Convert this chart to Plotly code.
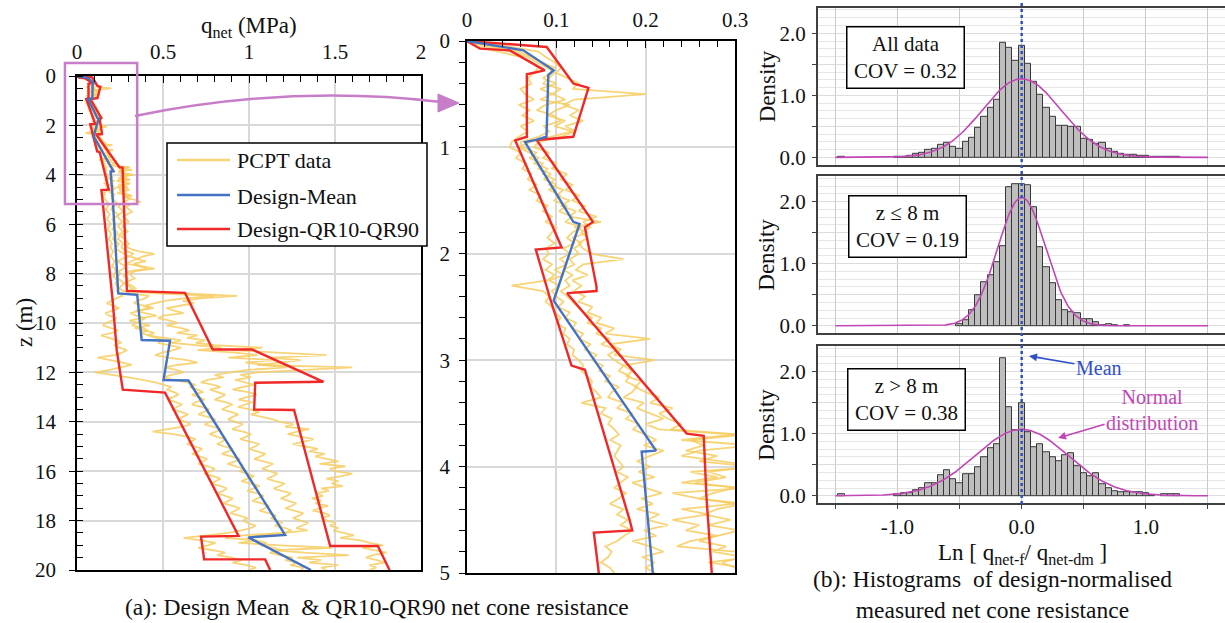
import numpy as np
import plotly.graph_objects as go

W, H = 1225, 623
SERIF = "Liberation Serif"
YELLOW = "rgba(246,204,96,0.85)"
RED = "#F02828"
BLUE = "#4472C4"
PINK = "#C87DC8"
MAGENTA = "#C246B6"
MEAN_BLUE = "#3150C8"

# ---------------------------------------------------------------- PCPT data
depth_top = np.round(np.linspace(0.0, 4.95, 100), 2)   # 0.05 m sampling to 5 m
depth_deep = np.round(np.linspace(5.0, 20.0, 151), 1)  # 0.1 m sampling below

pcpt_1_top = [
    0.000, 0.030, 0.058, 0.072, 0.083, 0.098, 0.093, 0.085, 0.100, 0.082, 0.095, 0.110, 0.088, 0.078, 0.097, 0.105, 0.086, 0.092, 0.080, 0.060,
    0.062, 0.078, 0.070, 0.085, 0.080, 0.094, 0.086, 0.100, 0.092, 0.104, 0.098, 0.112, 0.103, 0.118, 0.110, 0.128, 0.118, 0.112, 0.120, 0.108,
    0.115, 0.104, 0.112, 0.098, 0.108, 0.092, 0.104, 0.095, 0.100, 0.108, 0.102, 0.115, 0.110, 0.122, 0.118, 0.130, 0.126, 0.138, 0.132, 0.145,
    0.140, 0.152, 0.148, 0.160, 0.155, 0.170, 0.162, 0.158, 0.175, 0.168, 0.185, 0.178, 0.192, 0.186, 0.200, 0.212, 0.198, 0.220, 0.205, 0.190,
    0.205, 0.192, 0.210, 0.185, 0.200, 0.218, 0.195, 0.208, 0.190, 0.215, 0.202, 0.225, 0.198, 0.212, 0.185, 0.205, 0.220, 0.196, 0.210, 0.200,
]
pcpt_1_deep = [
    0.210, 0.228, 0.235, 0.205, 0.198, 0.222, 0.240, 0.226, 0.205, 0.212,
    0.224, 0.218, 0.205, 0.230, 0.238, 0.215, 0.208, 0.226, 0.244, 0.232,
    0.228, 0.250, 0.275, 0.300, 0.262, 0.240, 0.255, 0.285, 0.268, 0.245,
    0.252, 0.240, 0.236, 0.258, 0.272, 0.255, 0.248, 0.268, 0.310, 0.420,
    0.395, 0.350, 0.330, 0.385, 0.420, 0.365, 0.310, 0.342, 0.398, 0.372,
    0.340, 0.318, 0.385, 0.410, 0.372, 0.420, 0.465, 0.505, 0.470, 0.548,
    0.605, 0.560, 0.495, 0.455, 0.530, 0.640, 0.700, 0.585, 0.510, 0.575,
    0.620, 0.548, 0.505, 0.560, 0.640, 0.690, 0.655, 0.700, 0.735, 0.668,
    0.705, 0.742, 0.690, 0.668, 0.725, 0.770, 0.738, 0.705, 0.760, 0.805,
    0.775, 0.742, 0.790, 0.835, 0.808, 0.770, 0.810, 0.862, 0.845, 0.815,
    0.858, 0.905, 0.880, 0.842, 0.895, 0.948, 0.920, 0.875, 0.925, 0.968,
    0.945, 0.985, 1.030, 0.992, 0.955, 1.010, 1.062, 1.025, 0.990, 1.050,
    1.085, 1.048, 1.020, 1.075, 1.118, 1.092, 1.060, 1.115, 1.158, 1.128,
    1.165, 1.195, 1.150, 1.210, 1.248, 1.205, 1.060, 0.985, 1.040, 1.102,
    1.070, 1.145, 1.190, 1.120, 1.175, 1.255, 1.210, 1.285, 1.240, 1.320,
    1.300,
]

pcpt_2_top = [
    0.000, 0.045, 0.080, 0.088, 0.098, 0.105, 0.100, 0.112, 0.125, 0.118, 0.200, 0.120, 0.108, 0.125, 0.115, 0.130, 0.110, 0.122, 0.105, 0.080,
    0.075, 0.092, 0.085, 0.100, 0.095, 0.112, 0.105, 0.118, 0.110, 0.125, 0.118, 0.132, 0.125, 0.145, 0.130, 0.138, 0.128, 0.135, 0.125, 0.130,
    0.140, 0.175, 0.130, 0.122, 0.135, 0.118, 0.128, 0.120, 0.132, 0.125, 0.140, 0.135, 0.150, 0.145, 0.165, 0.155, 0.205, 0.160, 0.172, 0.165,
    0.210, 0.175, 0.185, 0.178, 0.195, 0.188, 0.200, 0.215, 0.205, 0.230, 0.215, 0.225, 0.240, 0.228, 0.310, 0.250, 0.265, 0.245, 0.280, 0.260,
    0.320, 0.270, 0.290, 0.255, 0.300, 0.275, 0.260, 0.310, 0.280, 0.265, 0.295, 0.270, 0.305, 0.280, 0.260, 0.290, 0.275, 0.310, 0.285, 0.300,
]
pcpt_2_deep = [
    0.330, 0.370, 0.310, 0.285, 0.305, 0.320, 0.292, 0.270, 0.288, 0.300,
    0.278, 0.265, 0.282, 0.295, 0.272, 0.258, 0.276, 0.290, 0.302, 0.285,
    0.310, 0.360, 0.450, 0.385, 0.350, 0.400, 0.330, 0.375, 0.450, 0.340,
    0.305, 0.318, 0.335, 0.300, 0.292, 0.322, 0.340, 0.315, 0.600, 0.930,
    0.720, 0.615, 0.680, 0.590, 0.520, 0.565, 0.620, 0.505, 0.470, 0.540,
    0.585, 0.520, 0.600, 0.655, 0.580, 0.700, 0.640, 0.745, 0.690, 0.800,
    1.080, 0.900, 1.220, 1.450, 1.120, 1.300, 1.180, 1.050, 1.600, 1.280,
    1.050, 0.950, 1.010, 0.920, 0.975, 1.030, 0.960, 0.905, 0.995, 1.045,
    0.985, 0.940, 1.020, 0.975, 0.935, 1.005, 1.060, 1.010, 1.085, 1.140,
    1.180, 1.260, 1.210, 1.350, 1.280, 1.225, 1.300, 1.375, 1.320, 1.255,
    1.330, 1.400, 1.350, 1.440, 1.385, 1.455, 1.520, 1.410, 1.560, 1.470,
    1.500, 1.600, 1.540, 1.450, 1.520, 1.480, 1.545, 1.420, 1.465, 1.390,
    1.430, 1.365, 1.420, 1.385, 1.460, 1.410, 1.370, 1.440, 1.470, 1.420,
    1.455, 1.505, 1.470, 1.520, 1.490, 1.550, 1.610, 1.530, 1.650, 1.700,
    1.780, 1.660, 1.740, 1.800, 1.720, 1.680, 1.745, 1.790, 1.700, 1.740,
    1.700,
]

pcpt_3_top = [
    0.000, 0.010, 0.035, 0.060, 0.072, 0.080, 0.075, 0.068, 0.072, 0.060, 0.065, 0.075, 0.058, 0.070, 0.062, 0.075, 0.060, 0.068, 0.058, 0.050,
    0.048, 0.060, 0.055, 0.066, 0.062, 0.072, 0.068, 0.078, 0.070, 0.082, 0.078, 0.090, 0.085, 0.095, 0.088, 0.100, 0.095, 0.090, 0.098, 0.088,
    0.092, 0.085, 0.095, 0.088, 0.098, 0.090, 0.050, 0.085, 0.092, 0.088, 0.095, 0.098, 0.105, 0.100, 0.110, 0.108, 0.115, 0.112, 0.120, 0.118,
    0.125, 0.130, 0.128, 0.135, 0.140, 0.138, 0.145, 0.150, 0.128, 0.155, 0.150, 0.162, 0.158, 0.165, 0.170, 0.160, 0.172, 0.168, 0.165, 0.170,
    0.175, 0.168, 0.180, 0.172, 0.165, 0.178, 0.170, 0.160, 0.175, 0.168, 0.180, 0.172, 0.185, 0.176, 0.168, 0.155, 0.162, 0.158, 0.150, 0.160,
]
pcpt_3_deep = [
    0.165, 0.172, 0.185, 0.178, 0.168, 0.180, 0.190, 0.182, 0.175, 0.188,
    0.195, 0.186, 0.178, 0.190, 0.198, 0.192, 0.185, 0.196, 0.204, 0.195,
    0.200, 0.210, 0.204, 0.196, 0.208, 0.218, 0.212, 0.205, 0.220, 0.226,
    0.218, 0.212, 0.225, 0.232, 0.224, 0.230, 0.240, 0.232, 0.245, 0.262,
    0.228, 0.195, 0.172, 0.210, 0.245, 0.205, 0.165, 0.188, 0.230, 0.205,
    0.168, 0.150, 0.195, 0.238, 0.205, 0.140, 0.185, 0.232, 0.258, 0.215,
    0.248, 0.290, 0.262, 0.215, 0.120, 0.195, 0.268, 0.318, 0.255, 0.190,
    0.105, 0.210, 0.300, 0.380, 0.455, 0.505, 0.548, 0.520, 0.565, 0.590,
    0.555, 0.528, 0.575, 0.612, 0.580, 0.552, 0.605, 0.645, 0.615, 0.590,
    0.632, 0.660, 0.615, 0.520, 0.440, 0.560, 0.640, 0.690, 0.668, 0.640,
    0.685, 0.728, 0.702, 0.668, 0.712, 0.758, 0.735, 0.705, 0.760, 0.802,
    0.775, 0.740, 0.792, 0.835, 0.808, 0.780, 0.835, 0.872, 0.848, 0.815,
    0.862, 0.905, 0.880, 0.852, 0.905, 0.948, 0.918, 0.890, 0.945, 0.992,
    0.965, 0.995, 1.040, 1.010, 0.955, 0.880, 0.760, 0.620, 0.720, 0.805,
    0.760, 0.705, 0.790, 0.862, 0.815, 0.900, 0.955, 0.905, 0.985, 1.040,
    1.000,
]

pcpt_4_top = [
    0.000, 0.020, 0.050, 0.068, 0.078, 0.090, 0.098, 0.092, 0.085, 0.105, 0.095, 0.082, 0.115, 0.100, 0.090, 0.110, 0.098, 0.118, 0.095, 0.070,
    0.058, 0.070, 0.080, 0.075, 0.090, 0.085, 0.098, 0.092, 0.108, 0.100, 0.115, 0.105, 0.122, 0.115, 0.150, 0.120, 0.135, 0.118, 0.128, 0.120,
    0.125, 0.115, 0.120, 0.108, 0.118, 0.110, 0.115, 0.105, 0.112, 0.118, 0.125, 0.130, 0.140, 0.135, 0.150, 0.145, 0.160, 0.150, 0.168, 0.158,
    0.165, 0.175, 0.170, 0.182, 0.178, 0.190, 0.185, 0.175, 0.198, 0.190, 0.205, 0.220, 0.200, 0.215, 0.300, 0.240, 0.320, 0.260, 0.240, 0.280,
    0.330, 0.250, 0.280, 0.240, 0.310, 0.230, 0.260, 0.300, 0.240, 0.270, 0.230, 0.260, 0.245, 0.280, 0.250, 0.235, 0.300, 0.320, 0.270, 0.310,
]
pcpt_4_deep = [
    0.300, 0.275, 0.252, 0.240, 0.258, 0.266, 0.245, 0.236, 0.252, 0.262,
    0.248, 0.240, 0.255, 0.266, 0.252, 0.244, 0.238, 0.256, 0.268, 0.258,
    0.265, 0.290, 0.330, 0.305, 0.355, 0.315, 0.290, 0.360, 0.410, 0.305,
    0.282, 0.272, 0.295, 0.288, 0.276, 0.302, 0.318, 0.296, 0.450, 0.800,
    0.620, 0.510, 0.455, 0.395, 0.445, 0.340, 0.395, 0.462, 0.375, 0.305,
    0.362, 0.425, 0.335, 0.395, 0.450, 0.412, 0.520, 0.605, 0.545, 0.700,
    0.840, 0.700, 0.920, 1.050, 0.880, 1.150, 0.980, 1.100, 1.220, 0.990,
    0.880, 0.800, 0.852, 0.760, 0.720, 0.795, 0.835, 0.772, 0.818, 0.862,
    0.835, 0.800, 0.862, 0.905, 0.870, 0.842, 0.895, 0.938, 0.905, 0.878,
    0.920, 0.965, 0.935, 0.902, 0.965, 1.012, 0.985, 0.948, 1.005, 1.060,
    1.035, 1.000, 1.048, 1.095, 1.068, 1.030, 1.085, 1.140, 1.112, 1.075,
    1.120, 1.165, 1.140, 1.105, 1.150, 1.208, 1.180, 1.142, 1.190, 1.245,
    1.220, 1.185, 1.230, 1.275, 1.248, 1.210, 1.262, 1.315, 1.290, 1.255,
    1.300, 1.345, 1.310, 1.275, 1.340, 1.210, 0.960, 0.860, 1.050, 0.940,
    1.180, 1.480, 1.150, 1.320, 1.580, 1.280, 1.420, 1.350, 1.520, 1.420,
    1.450,
]

pcpt_profiles = [
    (pcpt_1_top, pcpt_1_deep),
    (pcpt_2_top, pcpt_2_deep),
    (pcpt_3_top, pcpt_3_deep),
    (pcpt_4_top, pcpt_4_deep),
]
for top, deep in pcpt_profiles:
    assert len(top) == len(depth_top) and len(deep) == len(depth_deep)

# ------------------------------------------------------------ design lines
mean_z = [0, 0.088, 0.276, 0.32, 0.90, 0.93, 0.95, 1.70, 1.72, 2.44, 3.85, 3.86,
          5.0, 8.8, 8.86, 10.69, 10.72, 12.31, 12.33, 18.58, 18.68, 20.0]
mean_q = [0, 0.063, 0.097, 0.091, 0.089, 0.077, 0.065, 0.119, 0.126, 0.097, 0.2116, 0.1955,
          0.208, 0.24, 0.35, 0.376, 0.541, 0.503, 0.648, 1.21, 0.997, 1.36]

qr10_z = [0, 0.072, 0.088, 0.276, 0.313, 0.90, 0.934, 1.94, 1.96, 2.42, 3.05, 3.09, 4.50,
          4.60, 4.62, 5.0, 9.07, 11.1, 12.7, 12.82, 18.62, 18.65, 19.57, 19.57, 20.0]
qr10_q = [0, 0.0146, 0.048, 0.087, 0.067, 0.067, 0.054, 0.106, 0.077, 0.093, 0.117, 0.132, 0.182,
          0.185, 0.142, 0.148, 0.207, 0.231, 0.266, 0.512, 0.939, 0.721, 0.739, 1.094, 1.123]

qr90_z = [0, 0.05, 0.056, 0.40, 0.44, 0.90, 0.93, 1.70, 1.75, 2.31, 2.35, 2.37, 3.69, 3.71,
          4.28, 5.0, 8.7, 8.78, 11.07, 11.07, 12.38, 12.42, 13.5, 13.52, 19.03, 19.03, 20.0]
qr90_q = [0, 0.0817, 0.0892, 0.119, 0.136, 0.119, 0.078, 0.141, 0.132, 0.145, 0.145, 0.112, 0.246, 0.265,
          0.268, 0.274, 0.29, 0.628, 0.789, 1.017, 1.433, 1.036, 1.03, 1.262, 1.472, 1.749, 1.817]

# ---------------------------------------------------------------- histograms
hist_all_x = [-1.45, -1.0, -0.95, -0.9, -0.85, -0.8, -0.75, -0.7, -0.65, -0.6, -0.55, -0.5, -0.45, -0.4,
              -0.35, -0.3, -0.25, -0.2, -0.15, -0.1, -0.05, 0.0, 0.05, 0.1, 0.15, 0.2, 0.25, 0.3, 0.35,
              0.4, 0.45, 0.5, 0.55, 0.6, 0.65, 0.7, 0.75, 0.8, 0.85, 0.9, 0.95, 1.0, 1.05, 1.1, 1.15,
              1.2, 1.25]
hist_all_y = [0.01, 0.01, 0.01, 0.02, 0.05, 0.07, 0.12, 0.13, 0.20, 0.23, 0.17, 0.14, 0.25, 0.32,
              0.48, 0.66, 0.80, 0.93, 1.84, 1.76, 1.56, 1.80, 1.51, 1.21, 1.01, 0.80, 0.65, 0.51, 0.51,
              0.49, 0.50, 0.30, 0.28, 0.22, 0.23, 0.14, 0.09, 0.06, 0.04, 0.04, 0.03, 0.03, 0.01, 0.01, 0.01,
              0.01, 0.01]

hist_shallow_x = [-0.5, -0.45, -0.4, -0.35, -0.3, -0.25, -0.2, -0.15, -0.1, -0.05, 0.0, 0.05, 0.1,
                  0.15, 0.2, 0.25, 0.3, 0.35, 0.4, 0.45, 0.5, 0.55, 0.6, 0.65, 0.7, 0.75, 0.85]
hist_shallow_y = [0.03, 0.09, 0.25, 0.49, 0.70, 0.82, 1.02, 1.28, 2.23, 2.28, 2.28, 2.26, 1.91,
                  1.27, 0.95, 0.69, 0.41, 0.25, 0.22, 0.21, 0.11, 0.11, 0.05, 0.01, 0.02, 0.01, 0.01]

hist_deep_x = [-1.45, -1.0, -0.95, -0.9, -0.85, -0.8, -0.75, -0.7, -0.65, -0.6, -0.55, -0.5, -0.45, -0.4,
               -0.35, -0.3, -0.25, -0.2, -0.15, -0.1, -0.05, 0.0, 0.05, 0.1, 0.15, 0.2, 0.25, 0.3, 0.35,
               0.4, 0.45, 0.5, 0.55, 0.6, 0.65, 0.7, 0.75, 0.8, 0.85, 0.9, 0.95, 1.0, 1.05, 1.15, 1.2, 1.25]
hist_deep_y = [0.02, 0.03, 0.04, 0.04, 0.09, 0.12, 0.20, 0.20, 0.33, 0.41, 0.27, 0.20, 0.35, 0.35,
               0.46, 0.62, 0.76, 0.83, 2.21, 1.42, 1.05, 1.49, 1.02, 0.78, 0.83, 0.70, 0.62, 0.56, 0.66,
               0.68, 0.48, 0.36, 0.31, 0.36, 0.19, 0.12, 0.08, 0.06, 0.05, 0.05, 0.05, 0.04, 0.01, 0.02, 0.02, 0.02]

# fitted normal distributions of Ln(q_net-f / q_net-dm)
normal_fits = {"all": (0.0, 0.315), "shallow": (0.0, 0.193), "deep": (0.0, 0.373)}
box_labels = ["All data<br>COV = 0.32", "z ≤ 8 m<br>COV = 0.19", "z > 8 m<br>COV = 0.38"]
BIN_WIDTH = 0.05

# ------------------------------------------------------------------ layout
def px_x(x):
    return x / W


def px_y(y):
    return 1 - y / H


LEFT_X = [px_x(77), px_x(421)]
LEFT_Y = [px_y(570), px_y(76)]
MID_X = [px_x(467), px_x(735)]
MID_Y = [px_y(573), px_y(41)]
HIST_X = [px_x(818), 1.0]
HIST_Y = [[px_y(164.8), px_y(7.8)], [px_y(333.2), px_y(176.2)], [px_y(503.2), px_y(346.2)]]
HIST_XRANGE = [-1.64, 1.637]
HIST_YRANGE = [-0.12, 2.41]


def data_to_paper(v, dom, rng):
    return dom[0] + (v - rng[0]) / (rng[1] - rng[0]) * (dom[1] - dom[0])


fig = go.Figure()


def add_profiles(xa, ya):
    depth = np.concatenate([depth_top, depth_deep])
    for top, deep in pcpt_profiles:
        fig.add_trace(go.Scatter(
            x=np.concatenate([top, deep]), y=depth, mode="lines",
            line=dict(color=YELLOW, width=1.8), xaxis=xa, yaxis=ya,
            showlegend=False, hoverinfo="skip"))
    for zz, qq in [(qr10_z, qr10_q), (qr90_z, qr90_q)]:
        fig.add_trace(go.Scatter(x=qq, y=zz, mode="lines", line=dict(color=RED, width=2.4),
                                 xaxis=xa, yaxis=ya, showlegend=False))
    fig.add_trace(go.Scatter(x=mean_q, y=mean_z, mode="lines", line=dict(color=BLUE, width=2.4),
                             xaxis=xa, yaxis=ya, showlegend=False))


add_profiles("x", "y")
add_profiles("x2", "y2")

hist_sets = [(hist_all_x, hist_all_y, "all"), (hist_shallow_x, hist_shallow_y, "shallow"),
             (hist_deep_x, hist_deep_y, "deep")]
curve_x = np.linspace(-1.5, 1.5, 301)
for k, (hx, hy, key) in enumerate(hist_sets):
    xa, ya = f"x{k + 3}", f"y{k + 3}"
    fig.add_trace(go.Bar(x=hx, y=hy, width=BIN_WIDTH, xaxis=xa, yaxis=ya, showlegend=False,
                         marker=dict(color="#BEBEBE", line=dict(color="#383838", width=1))))
    mu, sd = normal_fits[key]
    pdf = np.exp(-0.5 * ((curve_x - mu) / sd) ** 2) / (sd * np.sqrt(2 * np.pi))
    fig.add_trace(go.Scatter(x=curve_x, y=pdf, mode="lines", line=dict(color=MAGENTA, width=1.6),
                             xaxis=xa, yaxis=ya, showlegend=False))

tick_font = dict(family=SERIF, size=21, color="#111")
profile_axis = dict(showline=True, linecolor="black", linewidth=1.5, mirror=True, zeroline=False,
                    showgrid=True, gridcolor="#D9D9D9", gridwidth=2, tickfont=tick_font,
                    tickcolor="black", automargin=False)

layout = dict(
    width=W, height=H, margin=dict(l=0, r=0, t=0, b=0, pad=0), autosize=False,
    paper_bgcolor="white", plot_bgcolor="white", showlegend=False, bargap=0,
    font=dict(family=SERIF, color="#111"),
    xaxis=dict(profile_axis, domain=LEFT_X, range=[0, 2], side="top", anchor="y",
               tickvals=[0, 0.5, 1, 1.5, 2], ticktext=["0", "0.5", "1", "1.5", "2"],
               ticks="inside", ticklen=7, ticklabelstandoff=7,
               minor=dict(dtick=0.1, ticks="inside", ticklen=6, tickcolor="black", showgrid=False)),
    yaxis=dict(profile_axis, domain=LEFT_Y, range=[20, 0], anchor="x", dtick=2,
               ticks="outside", ticklen=6, ticklabelstandoff=9,
               minor=dict(dtick=0.5, ticks="inside", ticklen=6, tickcolor="black", showgrid=False)),
    xaxis2=dict(profile_axis, domain=MID_X, range=[0, 0.3], side="top", anchor="y2",
                tickvals=[0, 0.1, 0.2, 0.3], ticktext=["0", "0.1", "0.2", "0.3"],
                ticks="inside", ticklen=7, ticklabelstandoff=4,
                minor=dict(dtick=0.02, ticks="inside", ticklen=6, tickcolor="black", showgrid=False)),
    yaxis2=dict(profile_axis, domain=MID_Y, range=[5, 0], anchor="x2", dtick=1,
                ticks="outside", ticklen=6, ticklabelstandoff=5,
                minor=dict(dtick=0.2, ticks="outside", ticklen=6, tickcolor="black", showgrid=False)),
)

for k in range(3):
    last = k == 2
    layout[f"xaxis{k + 3}"] = dict(
        domain=HIST_X, range=HIST_XRANGE, anchor=f"y{k + 3}", automargin=False,
        tickvals=[-1.5, -1, -0.5, 0, 0.5, 1, 1.5],
        ticktext=["", "-1.0", "", "0.0", "", "1.0", ""],
        showticklabels=last, ticks="outside" if last else "", ticklen=4, tickcolor="#404040",
        tickfont=tick_font, ticklabelstandoff=0,
        showgrid=True, gridcolor="#C9C9C9", gridwidth=1.3, zeroline=False,
        showline=True, linecolor="#404040", linewidth=2, mirror=True)
    layout[f"yaxis{k + 3}"] = dict(
        domain=HIST_Y[k], range=HIST_YRANGE, anchor=f"x{k + 3}", automargin=False,
        tickvals=[0, 0.5, 1, 1.5, 2], ticktext=["0.0", "", "1.0", "", "2.0"],
        ticks="outside", ticklen=4, tickcolor="#404040", tickfont=tick_font, ticklabelstandoff=2,
        showgrid=True, gridcolor="#DCDCDC", gridwidth=1.3, zeroline=False,
        minor=dict(dtick=0.125, showgrid=True, gridcolor="#E6E6E6", gridwidth=1),
        showline=True, linecolor="#404040", linewidth=2)

fig.update_layout(**layout)

shapes = []
annotations = []

# zoom window on the full-depth profile and the arrow to the 0-5 m panel
bx0 = data_to_paper(-0.07, LEFT_X, [0, 2])
bx1 = data_to_paper(0.35, LEFT_X, [0, 2])
by0 = data_to_paper(5.18, LEFT_Y, [20, 0])
by1 = data_to_paper(-0.53, LEFT_Y, [20, 0])
shapes.append(dict(type="rect", xref="paper", yref="paper", x0=bx0, x1=bx1, y0=by0, y1=by1,
                   line=dict(color=PINK, width=2.5)))
shapes.append(dict(type="path", xref="paper", yref="paper",
                   path=f"M {px_x(135)},{px_y(116)} Q {px_x(290)},{px_y(84)} {px_x(441)},{px_y(102)}",
                   line=dict(color=PINK, width=2.5)))
shapes.append(dict(type="path", xref="paper", yref="paper",
                   path=f"M {px_x(459)},{px_y(103)} L {px_x(438)},{px_y(94)} L {px_x(438)},{px_y(112)} Z",
                   fillcolor=PINK, line=dict(color=PINK, width=1)))

# legend
shapes.append(dict(type="rect", xref="paper", yref="paper", x0=px_x(167), x1=px_x(427),
                   y0=px_y(246), y1=px_y(143), line=dict(color="black", width=1.5),
                   fillcolor="white"))
legend_items = [("PCPT data", YELLOW, 160), ("Design-Mean", BLUE, 195), ("Design-QR10-QR90", RED, 229)]
for label, color, yy in legend_items:
    shapes.append(dict(type="line", xref="paper", yref="paper", x0=px_x(177), x1=px_x(230),
                       y0=px_y(yy), y1=px_y(yy), line=dict(color=color, width=2.6)))
    annotations.append(dict(text=label, x=px_x(235), y=px_y(yy + 1), xanchor="left",
                            font=dict(size=22)))

# mean line through the three histograms
shapes.append(dict(type="line", xref="x3", yref="paper", x0=0, x1=0, y0=px_y(504), y1=1.0,
                   line=dict(color=MEAN_BLUE, width=2.5, dash="dot")))

fig.update_layout(shapes=shapes)

annotations += [
    dict(text="q<sub>net</sub> (MPa)", x=px_x(249), y=px_y(27), font=dict(size=23)),
    dict(text="z (m)", x=px_x(24), y=px_y(323), textangle=-90, font=dict(size=23)),
    dict(text="(a): Design Mean  &amp; QR10-QR90 net cone resistance", x=px_x(377), y=px_y(607),
         font=dict(size=23.5)),
    dict(text="Ln [ q<sub>net-f</sub>/ q<sub>net-dm</sub> ]", x=px_x(1022), y=px_y(554),
         font=dict(size=23)),
    dict(text="(b): Histograms  of design-normalised<br>measured net cone resistance",
         x=px_x(992), y=px_y(594), font=dict(size=23.5)),
]
for k in range(3):
    top, bot = [7.8, 176.2, 346.2][k], [164.8, 333.2, 503.2][k]
    annotations.append(dict(text="Density", x=px_x(767), y=px_y((top + bot) / 2), textangle=-90,
                            font=dict(size=23)))
box_centres = [(905, 58), (907, 226.5), (906, 399)]
for label, (cx, cy) in zip(box_labels, box_centres):
    annotations.append(dict(text=label, x=px_x(cx), y=px_y(cy), width=110, height=54,
                            bordercolor="black", borderwidth=1.5, borderpad=3, bgcolor="white",
                            font=dict(size=21)))

annotations.append(dict(text="Mean", x=px_x(1029), y=px_y(356), ax=70, ay=12,
                        showarrow=True, arrowhead=2, arrowsize=1, arrowwidth=1.6,
                        arrowcolor=MEAN_BLUE, font=dict(size=20, color=MEAN_BLUE)))
annotations.append(dict(text="Normal<br>distribution", x=px_x(1058), y=px_y(438), ax=94, ay=-28,
                        showarrow=True, arrowhead=2, arrowsize=1, arrowwidth=1.6,
                        arrowcolor=MAGENTA, font=dict(size=20, color=MAGENTA)))

for a in annotations:
    a.setdefault("xref", "paper")
    a.setdefault("yref", "paper")
    a.setdefault("xanchor", "center")
    a.setdefault("yanchor", "middle")
    a.setdefault("showarrow", False)
    a["font"] = dict(dict(family=SERIF, color="#111"), **a.get("font", {}))

fig.update_layout(annotations=annotations)
fig.write_html("out.html")
